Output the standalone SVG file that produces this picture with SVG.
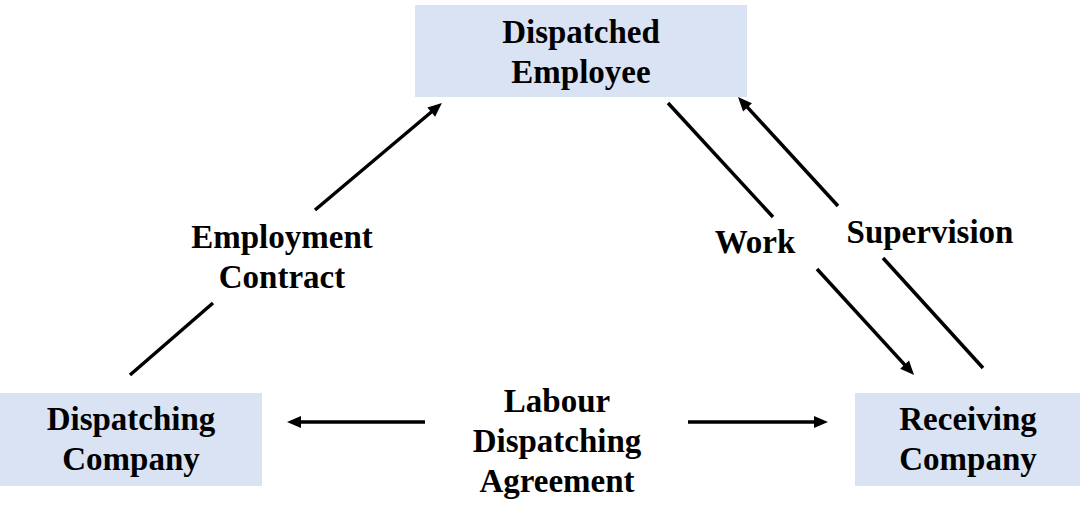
<svg xmlns="http://www.w3.org/2000/svg" width="1080" height="522" viewBox="0 0 1080 522">
<style>
.box{fill:#DAE3F3;stroke:none}
.t{font-family:"Liberation Serif","Times New Roman",serif;font-weight:bold;font-size:33px;fill:#000;text-anchor:middle}
.c{stroke:#000;stroke-width:3.5;fill:none}
</style>
<defs>
<marker id="ah" markerUnits="userSpaceOnUse" markerWidth="16" markerHeight="14" refX="4" refY="6" orient="auto" overflow="visible">
<path d="M0,0 L14,6 L0,12 z" fill="#000"/>
</marker>
</defs>
<rect width="1080" height="522" fill="#fff"/>
<g id="dispatched-employee">
<rect class="box" x="415" y="5" width="332" height="92"/>
<text class="t" x="581" y="43">Dispatched</text>
<text class="t" x="581" y="83">Employee</text>
</g>
<g id="dispatching-company">
<rect class="box" x="0" y="393" width="262" height="93"/>
<text class="t" x="131" y="430">Dispatching</text>
<text class="t" x="131" y="470">Company</text>
</g>
<g id="receiving-company">
<rect class="box" x="855" y="393" width="225" height="93"/>
<text class="t" x="968" y="430">Receiving</text>
<text class="t" x="968" y="470">Company</text>
</g>
<g id="connectors">
<line class="c" x1="130" y1="375" x2="213" y2="303"/>
<line class="c" x1="315" y1="210" x2="434.3" y2="109.5" marker-end="url(#ah)"/>
<line class="c" x1="668" y1="103" x2="773" y2="217"/>
<line class="c" x1="817" y1="269" x2="907.3" y2="367.6" marker-end="url(#ah)"/>
<line class="c" x1="983" y1="368" x2="883" y2="258"/>
<line class="c" x1="838" y1="206" x2="744.8" y2="104.4" marker-end="url(#ah)"/>
<line class="c" x1="425" y1="422" x2="297" y2="422" marker-end="url(#ah)"/>
<line class="c" x1="688" y1="422" x2="818" y2="422" marker-end="url(#ah)"/>
</g>
<g id="labels">
<text class="t" x="282" y="248">Employment</text>
<text class="t" x="282" y="288">Contract</text>
<text class="t" x="755" y="253">Work</text>
<text class="t" x="930" y="243">Supervision</text>
<text class="t" x="557" y="412">Labour</text>
<text class="t" x="557" y="452">Dispatching</text>
<text class="t" x="557" y="492">Agreement</text>
</g>
</svg>
